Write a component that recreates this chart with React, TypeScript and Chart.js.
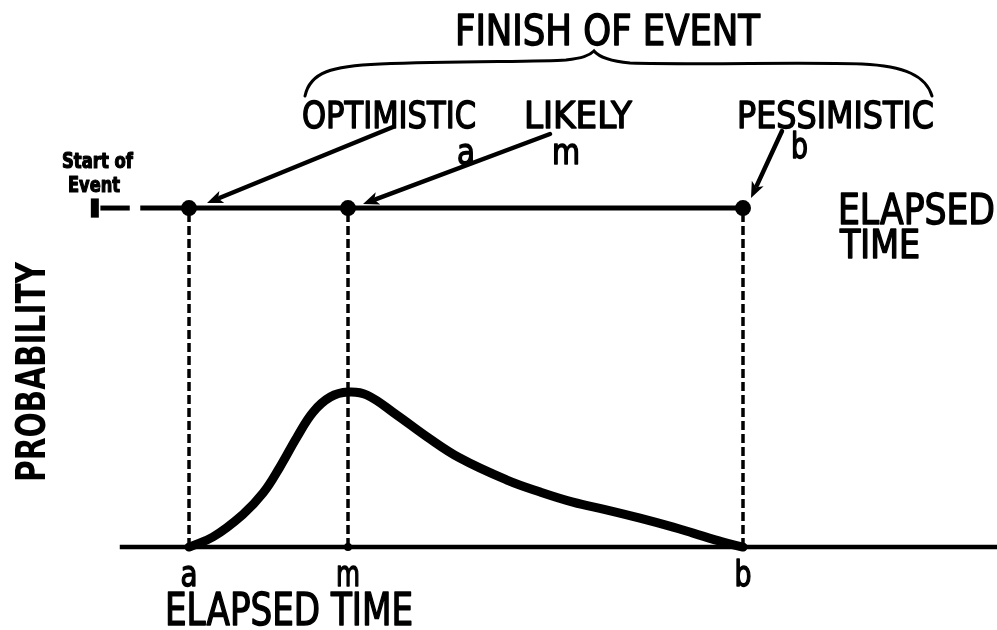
import React, { useEffect, useRef } from 'react';
import { Chart, registerables } from 'chart.js';

Chart.register(...registerables);

// ---- data -------------------------------------------------------------
const eventKeys = ['a', 'm', 'b'];
const eventNames = ['OPTIMISTIC', 'LIKELY', 'PESSIMISTIC'];
const eventTimes = [0, 2.87, 10];
const curveTimes = [0, 0.43, 0.97, 1.34, 1.64, 1.95, 2.24, 2.55, 2.87, 3.21, 3.75, 4.3, 4.89, 5.74, 6.34, 6.93, 7.55, 8.14, 8.74, 9.1, 9.64, 10];
const curveProbability = [0, 0.065, 0.21, 0.35, 0.516, 0.71, 0.871, 0.968, 1.0, 0.981, 0.852, 0.71, 0.574, 0.432, 0.355, 0.29, 0.239, 0.187, 0.129, 0.09, 0.032, 0];
const timelineLevel = 2.187;
const titleText = 'FINISH OF EVENT';
const axisTitleX = 'ELAPSED TIME';
const axisTitleY = 'PROBABILITY';
const startLabel = ['Start of', 'Event'];
const timelineTitle = ['ELAPSED', 'TIME'];

const X_MIN = -3.412;
const X_MAX = 14.585;
const Y_MIN = -0.535;
const Y_MAX = 3.529;

const FONT = "'DejaVu Sans Condensed', 'DejaVu Sans', 'Liberation Sans', sans-serif";

const drawArrow = (ctx: CanvasRenderingContext2D, x1: number, y1: number, x2: number, y2: number) => {
  const ang = Math.atan2(y2 - y1, x2 - x1);
  const len = 16;
  const half = 6.5;
  const bx = x2 - len * Math.cos(ang);
  const by = y2 - len * Math.sin(ang);
  ctx.beginPath();
  ctx.moveTo(x1, y1);
  ctx.lineTo(bx + 2 * Math.cos(ang), by + 2 * Math.sin(ang));
  ctx.lineWidth = 4.5;
  ctx.lineCap = 'round';
  ctx.stroke();
  ctx.beginPath();
  ctx.moveTo(x2, y2);
  ctx.lineTo(bx + half * Math.sin(ang), by - half * Math.cos(ang));
  ctx.lineTo(bx + 4 * Math.cos(ang), by + 4 * Math.sin(ang));
  ctx.lineTo(bx - half * Math.sin(ang), by + half * Math.cos(ang));
  ctx.closePath();
  ctx.fill();
};

const fitText = (
  ctx: CanvasRenderingContext2D,
  text: string,
  left: number,
  baseline: number,
  width: number,
  size: number,
  weight = 'normal',
  extra = 1.4
) => {
  ctx.font = `${weight} ${size}px ${FONT}`;
  const w = ctx.measureText(text).width || 1;
  ctx.save();
  ctx.translate(left, baseline);
  ctx.scale(width / w, 1);
  ctx.textAlign = 'left';
  ctx.textBaseline = 'alphabetic';
  ctx.fillText(text, 0, 0);
  if (extra > 0) {
    ctx.lineWidth = extra;
    ctx.lineJoin = 'round';
    ctx.strokeText(text, 0, 0);
  }
  ctx.restore();
};

const annotations = {
  id: 'pertAnnotations',
  afterDatasetsDraw(chart: any) {
    const ctx: CanvasRenderingContext2D = chart.ctx;
    const xs = chart.scales.x;
    const ys = chart.scales.y;
    const px = (v: number) => xs.getPixelForValue(v);
    const py = (v: number) => ys.getPixelForValue(v);
    const topY = py(timelineLevel);
    const ex = eventTimes.map(px);
    ctx.save();
    ctx.fillStyle = '#000';
    ctx.strokeStyle = '#000';

    // title + brace
    fitText(ctx, titleText, 455, 45, 305, 42);
    ctx.lineWidth = 3;
    ctx.lineCap = 'round';
    ctx.beginPath();
    ctx.moveTo(305, 96);
    ctx.bezierCurveTo(310, 72, 332, 66, 380, 64);
    ctx.bezierCurveTo(460, 61, 540, 62, 566, 60);
    ctx.bezierCurveTo(582, 58, 589, 56, 594, 51);
    ctx.bezierCurveTo(599, 57, 608, 61, 630, 63);
    ctx.bezierCurveTo(700, 65, 800, 62, 862, 64);
    ctx.bezierCurveTo(905, 66, 926, 76, 932, 96);
    ctx.stroke();

    // event names and symbols
    fitText(ctx, eventNames[0], 302, 128, 174, 38);
    fitText(ctx, eventNames[1], 524, 128, 108, 38);
    fitText(ctx, eventNames[2], 737, 128, 197, 38);
    fitText(ctx, eventKeys[0], 457, 164, 18, 36);
    fitText(ctx, eventKeys[1], 552, 164, 28, 36);
    fitText(ctx, eventKeys[2], 791, 158, 17, 36);

    // arrows pointing at the events on the time line
    drawArrow(ctx, 393, 127, ex[0] + 18, topY - 5);
    drawArrow(ctx, 550, 134, ex[1] + 15, topY - 4);
    drawArrow(ctx, 782, 131, ex[2] + 8, topY - 10);

    // time line title
    fitText(ctx, timelineTitle[0], 838, 224, 157, 42);
    fitText(ctx, timelineTitle[1], 840, 258, 80, 39);

    // start of event
    fitText(ctx, startLabel[0], 62, 168, 71, 22, 'bold', 1.2);
    fitText(ctx, startLabel[1], 68, 192, 52, 22, 'bold', 1.2);

    // bottom axis labels
    const keyWidths = [17, 24, 17];
    eventKeys.forEach((k, i) => fitText(ctx, k, ex[i] - keyWidths[i] / 2, 586, keyWidths[i], 36));
    fitText(ctx, axisTitleX, 165, 625, 248, 44);

    // y axis title
    ctx.save();
    ctx.translate(45, 482);
    ctx.rotate(-Math.PI / 2);
    fitText(ctx, axisTitleY, 0, 0, 220, 41, 'bold', 0);
    ctx.restore();

    ctx.restore();
  },
};

export default function App() {
  const ref = useRef<HTMLCanvasElement>(null);
  useEffect(() => {
    document.body.style.margin = '0';
    document.body.style.background = '#fff';
    const black = '#000';
    const line = (data: { x: number; y: number }[], extra: any = {}) => ({
      type: 'line',
      data,
      borderColor: black,
      backgroundColor: black,
      pointRadius: 0,
      borderWidth: 4,
      tension: 0,
      fill: false,
      ...extra,
    });
    const datasets: any[] = [
      {
        type: 'scatter',
        data: eventTimes.map((t) => ({ x: t, y: timelineLevel })),
        pointRadius: 8,
        pointBackgroundColor: black,
        pointBorderWidth: 0,
        showLine: false,
      },
      {
        type: 'scatter',
        data: eventTimes.map((t) => ({ x: t, y: 0 })),
        pointRadius: 4,
        pointBackgroundColor: black,
        pointBorderWidth: 0,
        showLine: false,
      },
      line(curveTimes.map((t, i) => ({ x: t, y: curveProbability[i] })), {
        borderWidth: 9,
        tension: 0.4,
        borderCapStyle: 'round',
        borderJoinStyle: 'round',
      }),
      line([{ x: -1.25, y: 0 }, { x: X_MAX, y: 0 }], { borderWidth: 4.5 }),
      line([{ x: -0.88, y: timelineLevel }, { x: eventTimes[2], y: timelineLevel }], { borderWidth: 5 }),
      line([{ x: -1.6, y: timelineLevel }, { x: -1.07, y: timelineLevel }], { borderWidth: 5 }),
      line([{ x: -1.7, y: timelineLevel - 0.062 }, { x: -1.7, y: timelineLevel + 0.062 }], { borderWidth: 8 }),
      ...eventTimes.map((t) =>
        line([{ x: t, y: 0 }, { x: t, y: timelineLevel }], { borderWidth: 3.5, borderDash: [9, 4] })
      ),
    ];
    const chart = new Chart(ref.current as HTMLCanvasElement, {
      type: 'line',
      data: { datasets },
      options: {
        animation: false,
        responsive: true,
        maintainAspectRatio: false,
        layout: { padding: 0, autoPadding: false },
        plugins: { legend: { display: false }, tooltip: { enabled: false } },
        events: [],
        scales: {
          x: { type: 'linear', min: X_MIN, max: X_MAX, display: false },
          y: { type: 'linear', min: Y_MIN, max: Y_MAX, display: false },
        },
      },
      plugins: [annotations],
    } as any);
    return () => chart.destroy();
  }, []);
  return (
    <div style={{ width: 997, height: 630, position: 'relative', background: '#fff' }}>
      <canvas ref={ref} />
    </div>
  );
}
